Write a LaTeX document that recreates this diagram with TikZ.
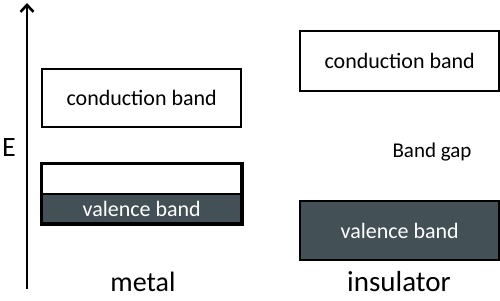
\documentclass[tikz,border=0pt]{standalone}
\usepackage{fontspec}
\setmainfont{Carlito}
\usetikzlibrary{positioning,arrows.meta}

\begin{document}
\begin{tikzpicture}[x=1pt,y=-1pt,
  band/.style={draw=black, line width=2.4pt, minimum width=199pt, inner sep=0pt, anchor=north west, font=\fontsize{22}{24}\selectfont},
  full/.style={band, fill=valcol, text=white},
  glab/.style={font=\fontsize{21}{24}\selectfont},
  mlab/.style={font=\fontsize{28}{32}\selectfont},
  axis/.style={-{Straight Barb[length=7pt,width=13pt,line width=2.6pt]}, line width=2.2pt}]

\definecolor{valcol}{RGB}{67,81,87}
\useasboundingbox (0,0) rectangle (500,300);

% ===== ENERGY AXIS =====
\coordinate (ax-bot) at (27,289);
\coordinate (ax-top) at (27,3);
\draw[axis] (ax-bot) -- (ax-top);
\node[mlab] (elab) at (9,148) {E};

% ===== METAL =====
\node[band, minimum height=58pt] (mcond) at (41,68) {conduction band};
\node[band, minimum height=30pt] (mempty) at (41,163) {};
\node[full, minimum height=29pt] (mval) at (41,193) {valence band};
\draw[line width=2.4pt] (mempty.north west) rectangle (mval.south east);
\node[mlab] (mlbl) at (143,282) {metal};

% ===== INSULATOR =====
\node[band, minimum height=60pt] (icond) at (299,30) {conduction band};
\node[glab] (gap) at (432,152) {Band gap};
\node[full, minimum height=59pt] (ival) at (299,200) {valence band};
\node[mlab, font=\fontsize{29}{32}\selectfont] (ilbl) at (399,282) {insulator};

\end{tikzpicture}
\end{document}
